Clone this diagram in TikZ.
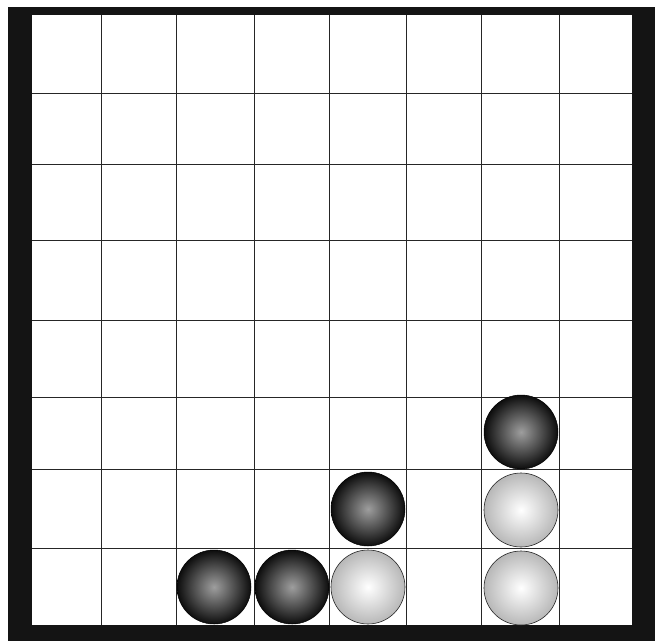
\documentclass[tikz,border=0pt]{standalone}
\begin{document}
\begin{tikzpicture}[x=1pt,y=-1pt,
  gridline/.style={line width=0.7pt,black!85},
  darkball/.style={circle,minimum size=74pt,inner sep=0pt,draw=black,line width=0.5pt,
     inner color=black!38,outer color=black!95},
  lightball/.style={circle,minimum size=74pt,inner sep=0pt,draw=black!85,line width=0.6pt,
     inner color=white,outer color=black!28}]
\useasboundingbox (0,0) rectangle (656,641);
\fill[white] (0,0) rectangle (656,641);
\fill[black!92] (8,7) rectangle (655,641);
\fill[white] (32,15) rectangle (632,625);
% vertical grid lines
\foreach \x in {101,176,254,329,406,481,559}
  \draw[gridline] (\x,15) -- (\x,625);
% horizontal grid lines
\foreach \y in {93,164,240,320,397,469,548}
  \draw[gridline] (32,\y) -- (632,\y);
% balls
\node[darkball] (d1) at (214,587) {};
\node[darkball] (d2) at (292,587) {};
\node[lightball] (l1) at (368,587) {};
\node[darkball] (d3) at (368,509) {};
\node[lightball] (l2) at (521,588) {};
\node[lightball] (l3) at (521,510) {};
\node[darkball] (d4) at (521,432) {};
\end{tikzpicture}
\end{document}
